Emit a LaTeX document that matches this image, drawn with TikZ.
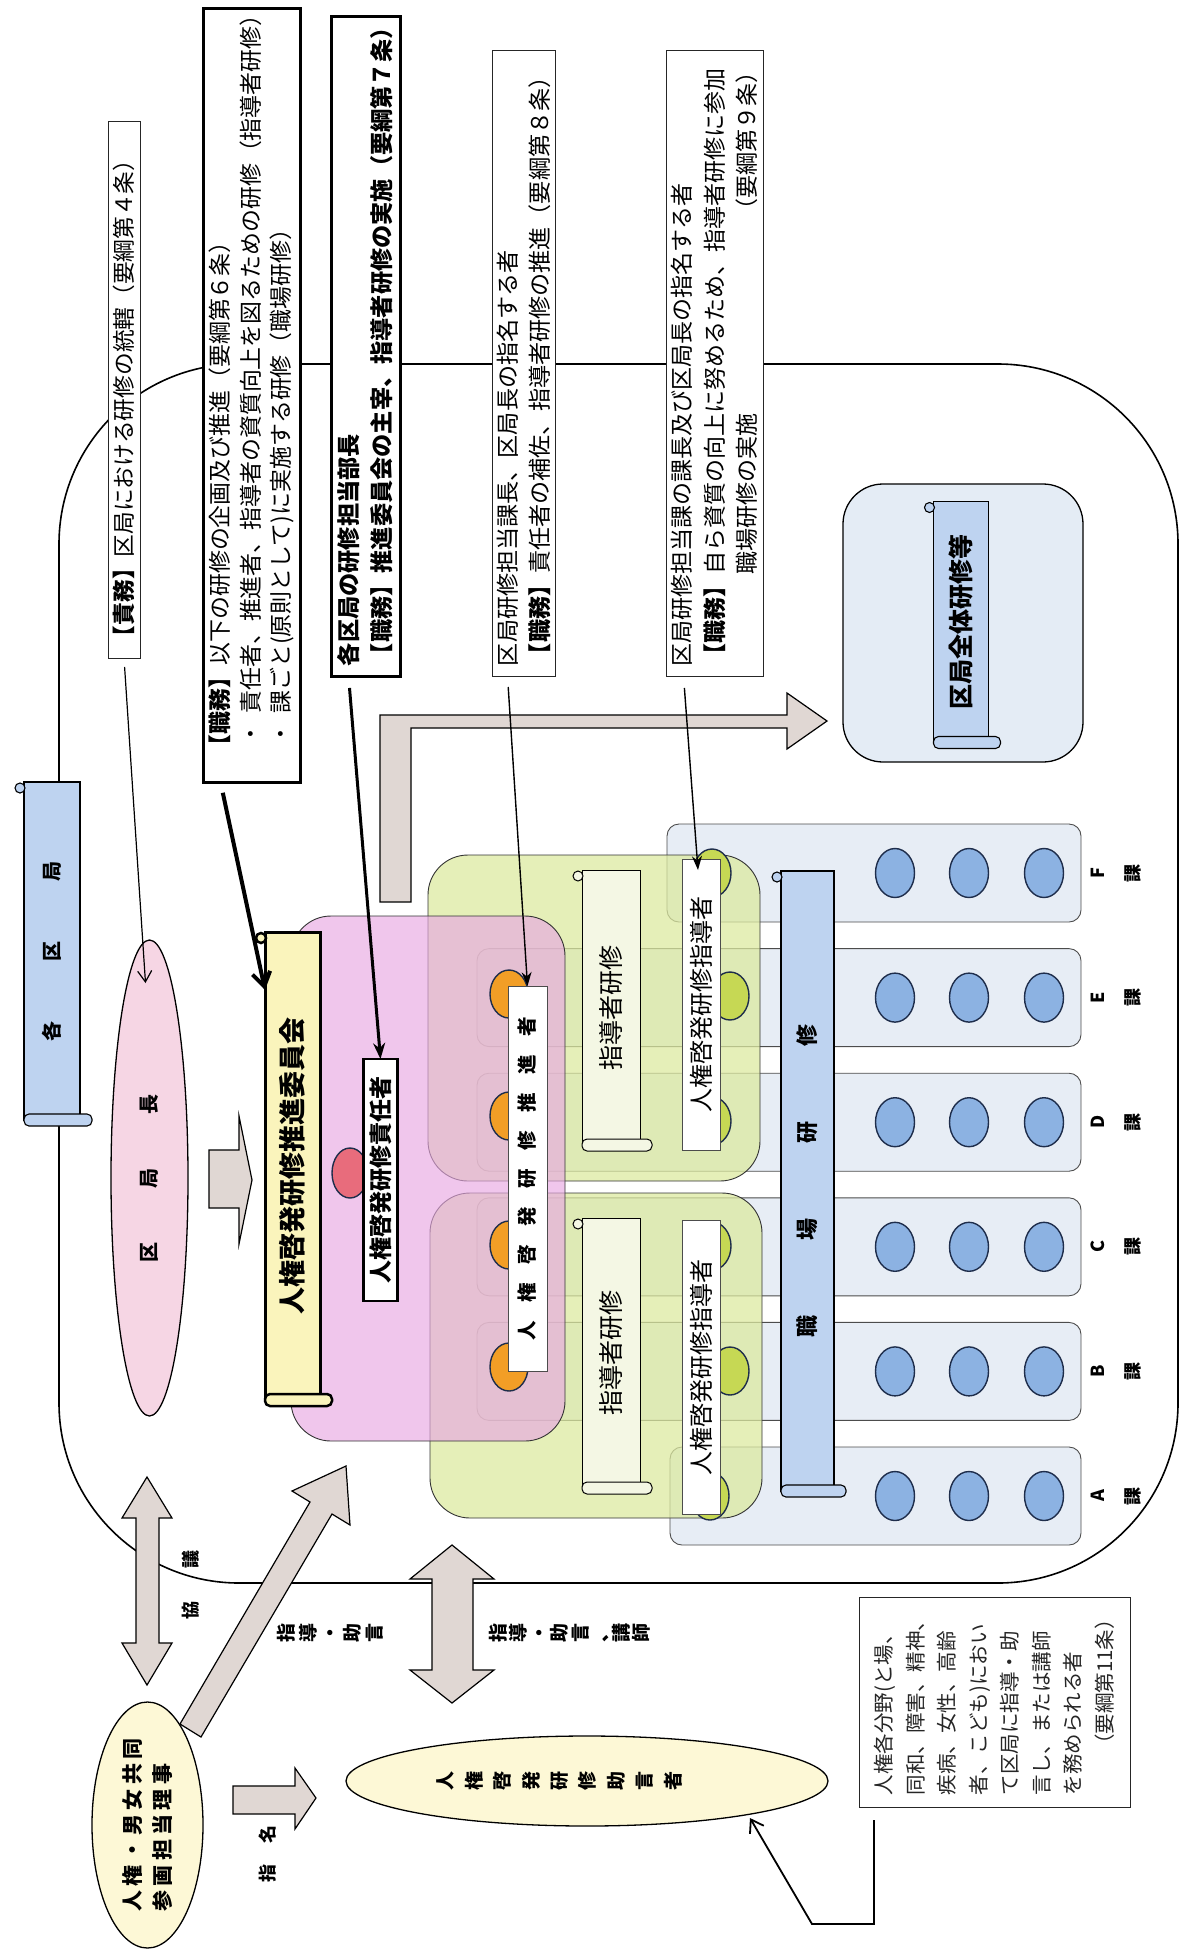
\documentclass[tikz,border=0pt]{standalone}
\usepackage{fontspec}
\setmainfont{Noto Sans CJK JP}
\usetikzlibrary{shapes.geometric, arrows.meta, calc}

\definecolor{rowfill}{RGB}{231,237,245}
\definecolor{greenfill}{RGB}{220,233,160}
\definecolor{pinkfill}{RGB}{232,168,226}
\definecolor{scrollblue}{RGB}{190,211,240}
\definecolor{arrowfill}{RGB}{224,215,211}
\definecolor{iinkaifill}{RGB}{250,244,188}
\definecolor{creamfill}{RGB}{253,248,214}
\definecolor{kyokufill}{RGB}{246,214,228}
\definecolor{zentaifill}{RGB}{228,236,245}
\definecolor{kenshufill}{RGB}{244,247,228}
\definecolor{staffblue}{RGB}{140,178,226}
\definecolor{staffor}{RGB}{242,158,38}
\definecolor{staffgr}{RGB}{198,216,84}
\definecolor{staffred}{RGB}{232,108,124}
\definecolor{staffline}{RGB}{30,45,75}

\makeatletter
\newcommand\spacedtxt[2]{\@tfor\spc@ch:=#2\do{\spc@ch\hspace{#1}}\unskip}
\makeatother

% curl at the top end, roll at the bottom end of a scroll node
\newcommand\scrollcaps[2]{%
  \draw[#2] ([xshift=-4pt,yshift=-6pt]#1.north east) circle (5pt);
  \draw[#2, rounded corners=5pt] ([yshift=6pt]#1.north west) rectangle ([xshift=12pt,yshift=-6pt]#1.south west);
}

\begin{document}
\begin{tikzpicture}[x=1pt, y=-1pt,
    every node/.style={inner sep=0pt, outer sep=0pt},
    txtbox/.style={draw=black!85, line width=0.9pt, fill=white, rotate=90, align=left, inner xsep=10pt},
    txtboxb/.style={txtbox, draw=black, line width=3pt},
    rowbox/.style={draw=black!70, line width=0.9pt, fill=rowfill, rounded corners=12pt},
    regiongr/.style={draw=black!80, line width=0.9pt, fill=greenfill, fill opacity=0.75, rounded corners=40pt},
    regionpk/.style={draw=black!80, line width=0.9pt, fill=pinkfill, fill opacity=0.65, rounded corners=40pt},
    scrollbody/.style={draw=black, line width=1.1pt, rotate=90, align=center},
    labelbox/.style={draw=black!70, line width=0.8pt, fill=white, rotate=90},
    blockarr/.style={draw=black, line width=1.2pt, fill=arrowfill},
    staff/.style={draw=staffline, line width=1.4pt},
    ellnode/.style={ellipse, draw=black, line width=1.3pt, rotate=90},
    lbl/.style={rotate=90, font=\fontsize{18}{22}\selectfont\bfseries},
  ]
  \useasboundingbox (0,0) rectangle (1187,1952);

  % the ward office as a whole
  \draw[line width=1.6pt, rounded corners=180pt] (59,364) rectangle (1178,1583);

  % bent arrow towards the office-wide training
  \draw[blockarr] (380,902) -- (380,715) -- (787,715) -- (787,693) -- (827,721)
    -- (787,749) -- (787,728) -- (411,728) -- (411,902) -- cycle;
  \draw[line width=1.3pt, fill=zentaifill, rounded corners=40pt] (843,484) rectangle (1083,762);
  \node[scrollbody, fill=scrollblue, minimum width=241pt, minimum height=55pt,
    font=\fontsize{25}{28}\selectfont\bfseries] (zentai) at (961,622) {区局全体研修等};
  \scrollcaps{zentai}{draw=black, line width=1.1pt, fill=scrollblue}

  % sections A--F with their staff
  \foreach \nm/\i/\lx in {F/0/667, E/1/477, D/2/477, C/3/477, B/4/477, A/5/670} {
    \pgfmathsetmacro\ya{824+124.6*\i}
    \draw[rowbox] (\lx,\ya) rectangle (1081,\ya+98);
    \foreach \cx in {895,969,1044}
      \draw[staff, fill=staffblue] (\cx,\ya+49) ellipse [x radius=19.5pt, y radius=24.5pt];
    \node[lbl, align=center, font=\fontsize{18}{35}\selectfont\bfseries] (ka\nm) at (1116.5,\ya+49) {\nm\\課};
  }

  % leader-training groups and the committee area
  \draw[regiongr] (428,855) rectangle (760,1181);
  \draw[regiongr] (430,1193) rectangle (762,1518);
  \draw[regionpk] (291,916) rectangle (565,1441);

  \foreach \yy in {994,1116,1245,1367}
    \draw[staff, fill=staffor] (509,\yy) ellipse [x radius=19pt, y radius=24pt];
  \foreach \xx/\yy in {712/873, 730/996, 712/1121, 712/1246, 730/1371, 710/1496}
    \draw[staff, fill=staffgr] (\xx,\yy) ellipse [x radius=19pt, y radius=24pt];
  \draw[staff, fill=staffred] (350,1173) ellipse [x radius=18pt, y radius=25pt];

  \node[scrollbody, line width=1pt, fill=kenshufill, minimum width=275pt, minimum height=58pt,
    font=\fontsize{25}{28}\selectfont] (kenshuA) at (611,1007.5) {指導者研修};
  \scrollcaps{kenshuA}{draw=black, line width=1pt, fill=kenshufill}
  \node[scrollbody, line width=1pt, fill=kenshufill, minimum width=270pt, minimum height=58pt,
    font=\fontsize{25}{28}\selectfont] (kenshuB) at (611,1353) {指導者研修};
  \scrollcaps{kenshuB}{draw=black, line width=1pt, fill=kenshufill}
  \node[scrollbody, fill=scrollblue, minimum width=620pt, minimum height=53pt,
    font=\fontsize{22}{26}\selectfont\bfseries] (shokuba) at (807.5,1181)
    {職\hspace{3.4em}場\hspace{3.4em}研\hspace{3.4em}修};
  \scrollcaps{shokuba}{draw=black, line width=1.1pt, fill=scrollblue}

  \node[labelbox, minimum width=385pt, minimum height=39pt,
    font=\fontsize{19.5}{22}\selectfont\bfseries] (suishin) at (527.5,1178.5)
    {\spacedtxt{0.95em}{人権啓発研修推進者}};
  \node[labelbox, minimum width=291pt, minimum height=38pt,
    font=\fontsize{24}{26}\selectfont] (shidoA) at (701,1004.5) {人権啓発研修指導者};
  \node[labelbox, minimum width=294pt, minimum height=38pt,
    font=\fontsize{24}{26}\selectfont] (shidoB) at (701,1367) {人権啓発研修指導者};

  \node[scrollbody, line width=3pt, fill=iinkaifill, minimum width=468pt, minimum height=55pt,
    font=\fontsize{27}{30}\selectfont\bfseries] (iinkai) at (292.5,1166) {人権啓発研修推進委員会};
  \scrollcaps{iinkai}{draw=black, line width=2.5pt, fill=iinkaifill}
  \node[labelbox, draw=black, line width=2.5pt, minimum width=242pt, minimum height=34pt,
    font=\fontsize{23}{26}\selectfont\bfseries] (sekinin) at (380.5,1180) {人権啓発研修責任者};

  % ward offices and ward head
  \node[scrollbody, fill=scrollblue, minimum width=338pt, minimum height=56pt,
    font=\fontsize{20}{24}\selectfont\bfseries] (kakukyoku) at (52,951) {各\hspace{3em}区\hspace{3em}局};
  \scrollcaps{kakukyoku}{draw=black, line width=1.1pt, fill=scrollblue}
  \node[ellnode, fill=kyokufill, minimum width=476pt, minimum height=77pt,
    font=\fontsize{20}{24}\selectfont\bfseries] (kyokucho) at (149.5,1178) {区\hspace{2.7em}局\hspace{2.7em}長};

  % outside the ward office
  \node[ellnode, fill=creamfill, minimum width=246pt, minimum height=111pt, align=left,
    font=\fontsize{21}{30}\selectfont\bfseries] (riji) at (147.5,1825)
    {\spacedtxt{4.3pt}{人権・男女共同}\\\spacedtxt{4.3pt}{参画担当理事}};
  \node[ellnode, fill=creamfill, minimum width=90pt, minimum height=482pt, align=center,
    font=\fontsize{19}{28.4}\selectfont\bfseries] (jogen) at (587,1781)
    {人\\権\\啓\\発\\研\\修\\助\\言\\者\\\mbox{}\\\mbox{}};

  % block arrows
  \draw[blockarr] (209,1150) -- (239,1150) -- (239,1116) -- (252,1180) -- (239,1244)
    -- (239,1208) -- (209,1208) -- cycle;
  \draw[blockarr] (147,1477) -- (172,1518) -- (159,1518) -- (159,1643) -- (172,1643)
    -- (147,1685) -- (122,1643) -- (136,1643) -- (136,1518) -- (122,1518) -- cycle;
  \draw[blockarr] (180,1724) -- (310,1502) -- (292,1491) -- (346,1466) -- (350,1525)
    -- (332,1514) -- (201,1737) -- cycle;
  \draw[blockarr] (452,1545) -- (494,1579) -- (473,1579) -- (473,1670) -- (494,1670)
    -- (452,1703) -- (410,1670) -- (432,1670) -- (432,1579) -- (410,1579) -- cycle;
  \draw[blockarr] (233,1786) -- (295,1786) -- (295,1768) -- (316,1798) -- (295,1829)
    -- (295,1814) -- (233,1814) -- cycle;
  \node[lbl] (lbKyogi) at (191,1585) {協\hspace{1.8em}議};
  \node[lbl] (lbShimei) at (268,1854) {指\hspace{1.2em}名};
  \node[lbl, align=center, font=\fontsize{19}{22}\selectfont\bfseries] (lbShido) at (330,1633)
    {指\\導\\・\\助\\言};
  \node[lbl, align=center, font=\fontsize{19}{20.5}\selectfont\bfseries] (lbKoshi) at (570,1633)
    {指\\導\\・\\助\\言\\、\\講\\師};

  % duties of each role
  \node[txtbox, minimum width=537pt, minimum height=32pt, text width=517pt,
    font=\fontsize{22.7}{28}\selectfont] (bxSekimu) at (124,389.5)
    {\textbf{【責務】}区局における研修の統轄（要綱第４条）};
  \node[txtboxb, minimum width=774pt, minimum height=97pt, text width=724pt, inner xsep=25pt,
    font=\fontsize{22.9}{30.5}\selectfont] (bxShokumu) at (251.5,395)
    {\textbf{【職務】}以下の研修の企画及び推進（要綱第６条）\\
     \hspace*{0.5em}・\hspace{0.4em}責任者、推進者、指導者の資質向上を図るための研修（指導者研修）\\
     \hspace*{0.5em}・\hspace{0.4em}課ごと(原則として)に実施する研修（職場研修）};
  \node[txtboxb, minimum width=660pt, minimum height=69pt, text width=640pt,
    font=\fontsize{23.2}{33}\selectfont\bfseries] (bxBucho) at (365.5,346)
    {各区局の研修担当部長\\
     【職務】推進委員会の主宰、指導者研修の実施（要綱第７条）};
  \node[txtbox, minimum width=626pt, minimum height=63pt, text width=606pt,
    font=\fontsize{23.1}{32}\selectfont] (bxKacho) at (523.5,363)
    {区局研修担当課長、区局長の指名する者\\
     \textbf{【職務】}責任者の補佐、指導者研修の推進（要綱第８条）};
  \node[txtbox, minimum width=626pt, minimum height=97pt, text width=606pt,
    font=\fontsize{23}{32.5}\selectfont] (bxKa) at (714.5,363)
    {区局研修担当課の課長及び区局長の指名する者\\
     \textbf{【職務】}自ら資質の向上に努めるため、指導者研修に参加\\
     \hspace*{4em}職場研修の実施\hspace*{\fill}（要綱第９条）};
  \node[txtbox, text=black!85, minimum width=210pt, minimum height=271pt, text width=186pt,
    inner xsep=12pt, font=\fontsize{20.5}{31.5}\selectfont] (bxKoshi) at (994.5,1702)
    {人権各分野(と場、\\同和、障害、精神、\\疾病、女性、高齢\\者、こども)におい\\
     て区局に指導・助\\言し、または講師\\を務められる者\\\hspace*{\fill}（要綱第11条）};

  % who is who
  \draw[line width=1.2pt, -{Straight Barb[length=11pt,width=14pt]}, shorten <=9pt]
    (bxSekimu.west) -- ([xshift=-4pt,yshift=-43pt]kyokucho.east);
  \draw[line width=4pt, -{Straight Barb[length=14pt,width=18pt]}, shorten <=11pt]
    ([xshift=-31pt]bxShokumu.west) -- ([yshift=-58pt]iinkai.north east);
  \draw[line width=3pt, -{Stealth[length=16pt,width=12pt]}, shorten <=12pt]
    ([xshift=-17pt]bxBucho.west) -- (sekinin.east);
  \draw[line width=1.4pt, -{Stealth[length=14pt,width=10pt]}, shorten <=11pt]
    ([xshift=-16pt]bxKacho.west) -- (suishin.east);
  \draw[line width=1.4pt, -{Stealth[length=14pt,width=10pt]}, shorten <=12pt]
    ([xshift=-31pt]bxKa.west) -- ([xshift=-3pt,yshift=-11pt]shidoA.east);
  \coordinate (tipJogen) at (750,1818);
  \draw[line width=1.8pt, -{Straight Barb[length=12pt,width=16pt]}, shorten <=13pt]
    ([xshift=15pt]bxKoshi.north west) -- ++(0,117) -- ++(-62,0) -- (tipJogen);
\end{tikzpicture}
\end{document}
